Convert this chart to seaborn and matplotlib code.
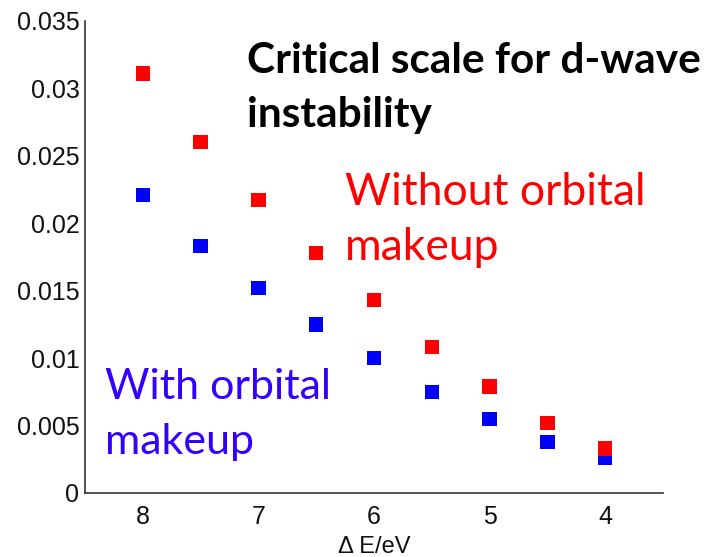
import matplotlib
matplotlib.use("Agg")
import matplotlib.pyplot as plt
import seaborn as sns
import pandas as pd

# Energy splitting (eV) and critical scale for the two cases
delta_e = [8.0, 7.5, 7.0, 6.5, 6.0, 5.5, 5.0, 4.5, 4.0]
crit_without = [0.0311, 0.0260, 0.0217, 0.0178, 0.0143, 0.0108, 0.0079, 0.0052, 0.0033]
crit_with = [0.0221, 0.0183, 0.0152, 0.0125, 0.0100, 0.0075, 0.0055, 0.0038, 0.0026]
x_ticks = [8, 7, 6, 5, 4]
y_ticks = [0, 0.005, 0.01, 0.015, 0.02, 0.025, 0.03, 0.035]
y_tick_labels = ["0", "0.005", "0.01", "0.015", "0.02", "0.025", "0.03", "0.035"]

df = pd.DataFrame({
    "dE": delta_e * 2,
    "crit": crit_with + crit_without,
    "case": ["with"] * len(delta_e) + ["without"] * len(delta_e),
})

sns.set_style("white")
plt.rcParams["font.family"] = ["Liberation Sans", "DejaVu Sans"]

W, H = 719, 557
fig = plt.figure(figsize=(W / 100, H / 100), dpi=100)
ax = fig.add_axes([85 / W, (H - 493) / H, (663 - 85) / W, (493 - 21) / H])

sns.scatterplot(data=df, x="dE", y="crit", hue="case",
                palette={"with": "#0000ff", "without": "#ff0000"},
                marker="s", s=105, linewidth=0, legend=False, ax=ax)

ax.set_xlim(8.5, 3.5)
ax.set_ylim(0, 0.035)
ax.set_xticks(x_ticks)
ax.set_xticklabels([str(t) for t in x_ticks])
ax.set_yticks(y_ticks)
ax.set_yticklabels(y_tick_labels)
ax.tick_params(direction="in", length=5, width=1, labelsize=18, colors="#111111")
ax.tick_params(axis="y", pad=4)
ax.tick_params(axis="x", pad=9)
for side in ("top", "right"):
    ax.spines[side].set_visible(False)
for side in ("left", "bottom"):
    ax.spines[side].set_color("#333333")
    ax.spines[side].set_linewidth(1.2)
ax.set_xlabel("Δ E/eV", fontsize=17, labelpad=5, color="#111111")
ax.set_ylabel("")

def ftxt(x, y, s, **kw):
    fig.text(x / W, 1 - y / H, s, va="baseline", ha="left", **kw)

title_font = dict(family=["Lato", "DejaVu Sans"], fontsize=30.5, fontweight="bold", color="black")
ftxt(247, 73, "Critical scale for d-wave", **title_font)
ftxt(247, 127, "instability", **title_font)

red_font = dict(family=["Lato", "DejaVu Sans"], fontsize=32, color="#ff0000")
ftxt(345, 205, "Without orbital", **red_font)
ftxt(345, 260, "makeup", **red_font)

blue_font = dict(family=["Lato", "DejaVu Sans"], fontsize=31, color="#3300ff")
ftxt(105, 399, "With orbital", **blue_font)
ftxt(105, 454, "makeup", **blue_font)

fig.savefig("out.png", dpi=100)
